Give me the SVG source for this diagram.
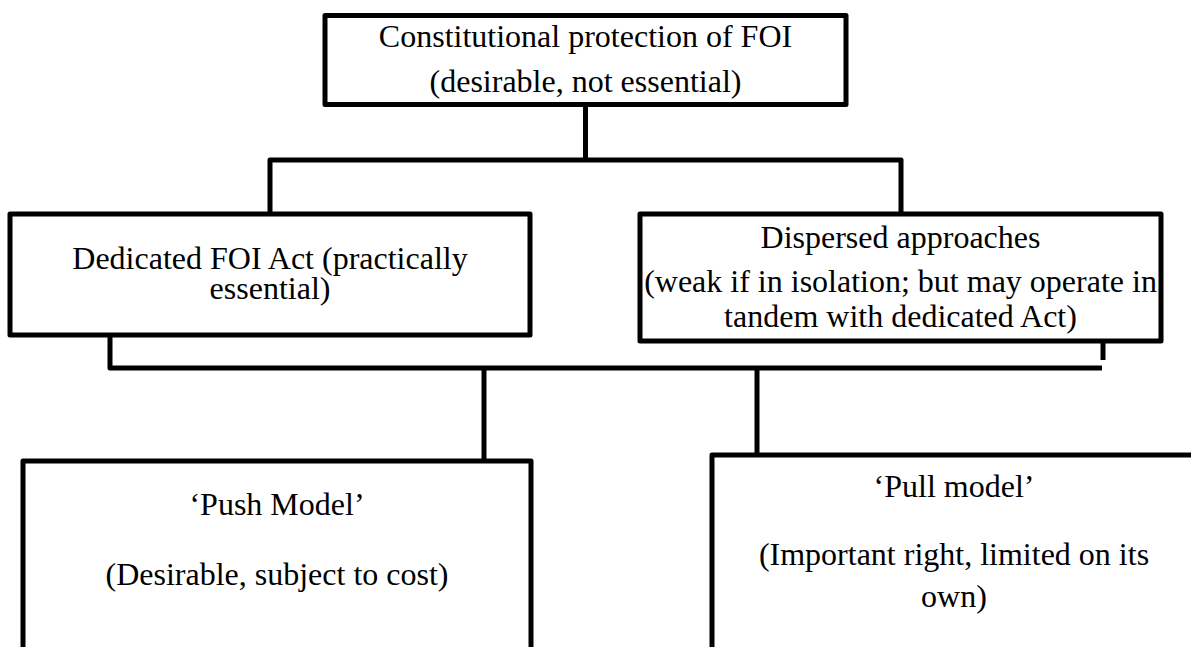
<svg xmlns="http://www.w3.org/2000/svg" width="1191" height="647" viewBox="0 0 1191 647">
<style>
.box{fill:#fff;stroke:#000;stroke-width:5;stroke-linejoin:round}
.conn{fill:none;stroke:#000;stroke-width:5;stroke-linejoin:round}
.t{font-family:"Liberation Serif","Times New Roman",serif;font-size:32px;fill:#000;text-anchor:middle}
</style>
<rect width="1191" height="647" fill="#fff"/>
<g id="connectors">
<path class="conn" d="M585.5,104 V160"/>
<path class="conn" d="M270,214 V160 H901 V214"/>
<path class="conn" d="M110,335 V368 H1102"/>
<path class="conn" d="M1103,341 V360"/>
<path class="conn" d="M484,368 V460"/>
<path class="conn" d="M757,368 V455"/>
</g>
<g id="node-constitutional">
<rect class="box" x="325" y="15.5" width="521" height="89"/>
<text class="t" x="585.5" y="47">Constitutional protection of FOI</text>
<text class="t" x="585.5" y="92">(desirable, not essential)</text>
</g>
<g id="node-dedicated">
<rect class="box" x="10" y="214" width="520" height="121"/>
<text class="t" x="270" y="269">Dedicated FOI Act (practically</text>
<text class="t" x="270" y="299">essential)</text>
</g>
<g id="node-dispersed">
<rect class="box" x="640" y="214" width="521" height="127"/>
<text class="t" x="900.5" y="248">Dispersed approaches</text>
<text class="t" x="900.5" y="292">(weak if in isolation; but may operate in</text>
<text class="t" x="900.5" y="327">tandem with dedicated Act)</text>
</g>
<g id="node-push">
<rect class="box" x="23" y="461" width="508" height="220"/>
<text class="t" x="277" y="515">‘Push Model’</text>
<text class="t" x="277" y="585">(Desirable, subject to cost)</text>
</g>
<g id="node-pull">
<rect class="box" x="712" y="455" width="500" height="230"/>
<text class="t" x="954" y="497">‘Pull model’</text>
<text class="t" x="954" y="565">(Important right, limited on its</text>
<text class="t" x="954" y="607">own)</text>
</g>
</svg>
